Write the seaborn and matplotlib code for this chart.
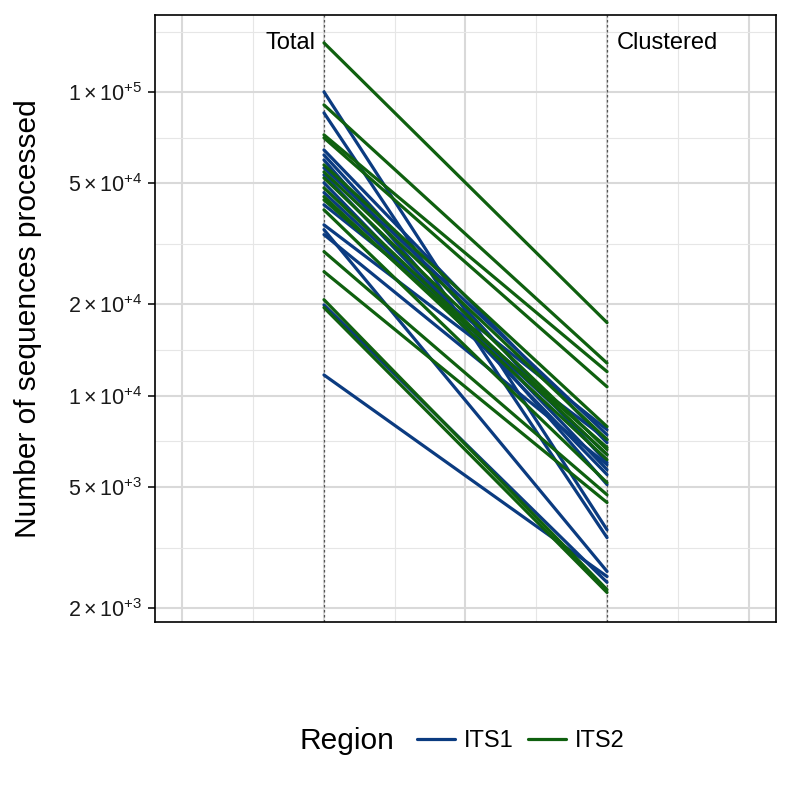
import matplotlib
matplotlib.use("Agg")
import matplotlib.pyplot as plt
import matplotlib.ticker as mticker
from matplotlib.lines import Line2D
import pandas as pd
import seaborn as sns

# sequences per sample, before and after clustering
its1_total = [100000, 85300, 64400, 62000, 59700, 56200, 53300, 50200,
              46600, 42500, 36500, 35200, 33900, 19900, 11700]
its1_clustered = [3620, 3410, 7000, 6020, 5100, 7440, 5710, 5500,
                  6400, 7730, 7170, 2640, 5930, 2430, 2540]
its2_total = [145000, 90600, 72200, 70600, 57500, 54500, 52100, 48300,
              45200, 44100, 40900, 29800, 25600, 20700, 19500]
its2_clustered = [17400, 12800, 12000, 10700, 7910, 7170, 6650, 6400,
                  6160, 6750, 5170, 4720, 4450, 2300, 2250]
stages = ["Total", "Clustered"]
regions = ["ITS1", "ITS2"]
colors = ["#0b3b80", "#0f600f"]

y_breaks = [2e3, 5e3, 1e4, 2e4, 5e4, 1e5]
y_labels = [r"$\mathregular{2\times10^{+3}}$", r"$\mathregular{5\times10^{+3}}$",
            r"$\mathregular{1\times10^{+4}}$", r"$\mathregular{2\times10^{+4}}$",
            r"$\mathregular{5\times10^{+4}}$", r"$\mathregular{1\times10^{+5}}$"]
y_minor = [3162, 7071, 14142, 31623, 70711, 157000]

rows = []
for region, tot, clu in [("ITS1", its1_total, its1_clustered),
                         ("ITS2", its2_total, its2_clustered)]:
    for i, (a, b) in enumerate(zip(tot, clu)):
        rows.append({"sample": f"{region}_{i}", "Region": region, "pos": 1, "count": a})
        rows.append({"sample": f"{region}_{i}", "Region": region, "pos": 2, "count": b})
df = pd.DataFrame(rows)

sns.set_style("white")
plt.rcParams["font.family"] = ["Liberation Sans", "DejaVu Sans"]
plt.rcParams["mathtext.fontset"] = "custom"
plt.rcParams["mathtext.rm"] = "Liberation Sans"
plt.rcParams["mathtext.it"] = "Liberation Sans:italic"
plt.rcParams["text.color"] = "black"
plt.rcParams["axes.labelcolor"] = "black"

fig = plt.figure(figsize=(7.92, 7.92), dpi=100)
ax = fig.add_axes([155 / 792, 1 - 622 / 792, 621 / 792, 607 / 792])

sns.lineplot(data=df, x="pos", y="count", hue="Region", units="sample",
             estimator=None, sort=False, palette=dict(zip(regions, colors)),
             linewidth=2.3, legend=False, ax=ax, zorder=3)

ax.set_yscale("log")
ax.set_xlim(0.403, 2.597)
ax.set_ylim(1799, 179100)

ax.yaxis.set_major_locator(mticker.FixedLocator(y_breaks))
ax.yaxis.set_major_formatter(mticker.FixedFormatter(y_labels))
ax.yaxis.set_minor_locator(mticker.FixedLocator(y_minor))
ax.yaxis.set_minor_formatter(mticker.NullFormatter())
ax.xaxis.set_major_locator(mticker.FixedLocator([0.5, 1, 1.5, 2, 2.5]))
ax.xaxis.set_minor_locator(mticker.FixedLocator([0.75, 1.25, 1.75, 2.25]))
ax.xaxis.set_major_formatter(mticker.NullFormatter())

ax.grid(which="major", color="#d9d9d9", linewidth=1.5, zorder=0)
ax.grid(which="minor", color="#e6e6e6", linewidth=0.8, zorder=0)
ax.set_axisbelow(True)

ax.tick_params(axis="y", which="major", left=True, length=5, width=1.1,
               color="black", labelsize=15.5, labelcolor="#1a1a1a", pad=4)
ax.tick_params(axis="y", which="minor", left=False, length=0)
ax.tick_params(axis="x", which="both", bottom=False, length=0)

for s in ax.spines.values():
    s.set_color("black")
    s.set_linewidth(1.2)

for x in [1, 2]:
    ax.axvline(x, color="#555555", linewidth=0.9, linestyle=(0, (2, 2)), zorder=2)

ax.annotate(stages[0], xy=(1, 144900), xytext=(-6, 0), textcoords="offset points",
            ha="right", va="center", fontsize=17)
ax.annotate(stages[1], xy=(2, 144900), xytext=(7, 0), textcoords="offset points",
            ha="left", va="center", fontsize=17)

ax.set_xlabel("")
ax.set_ylabel("Number of sequences processed", fontsize=21.5)
ax.yaxis.set_label_coords(-0.182, 0.5)

handles = [Line2D([0], [0], color=c, linewidth=2.3) for c in colors]
fig.legend(handles, regions, ncol=2, loc="center",
           bbox_to_anchor=(521 / 792, 1 - 741 / 792), frameon=False,
           fontsize=17, handlelength=1.6, handletextpad=0.4,
           columnspacing=0.6)
fig.text(300 / 792, 1 - 741 / 792, "Region", ha="left", va="center", fontsize=21.5)

fig.savefig("out.png", dpi=100)
